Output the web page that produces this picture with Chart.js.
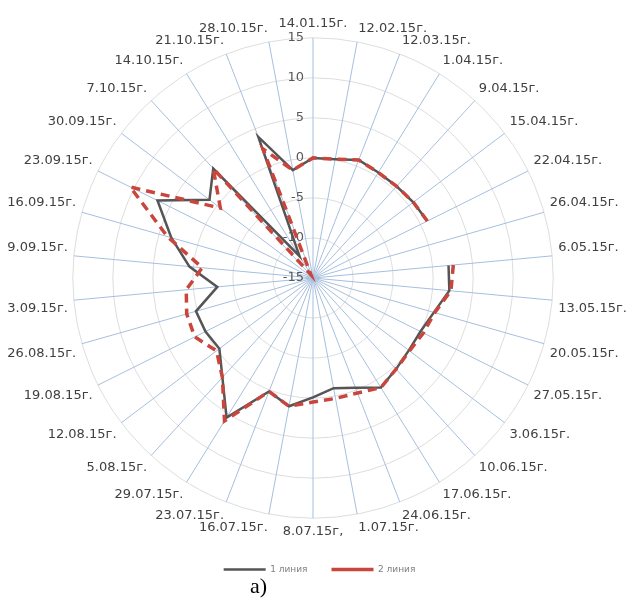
<!DOCTYPE html>
<html>
<head>
<meta charset="utf-8">
<script src="https://cdn.jsdelivr.net/npm/chart.js@4.4.1/dist/chart.umd.min.js"></script>
<style>
  html, body { margin: 0; padding: 0; background: #ffffff; }
  #wrap { position: relative; width: 632px; height: 600px; }
  #caption { position: absolute; left: 250px; top: 573px; font-family: "Liberation Serif", serif; font-size: 22px; color: #000; }
</style>
</head>
<body>
<div id="wrap">
  <canvas id="c" width="632" height="600"></canvas>
  <div id="caption">а)</div>
</div>
<script>
const categories = ["14.01.15г.", "12.02.15г.", "12.03.15г.", "1.04.15г.", "9.04.15г.", "15.04.15г.", "22.04.15г.", "26.04.15г.", "6.05.15г.", "13.05.15г.", "20.05.15г.", "27.05.15г.", "3.06.15г.", "10.06.15г.", "17.06.15г.", "24.06.15г.", "1.07.15г.", "8.07.15г,", "16.07.15г.", "23.07.15г.", "29.07.15г.", "5.08.15г.", "12.08.15г.", "19.08.15г.", "26.08.15г.", "3.09.15г.", "9.09.15г.", "16.09.15г.", "23.09.15г.", "30.09.15г.", "7.10.15г.", "14.10.15г.", "21.10.15г.", "28.10.15г."];
const line1 = [0, 0.1, 0.8, 0.5, 0.5, 0.7, 0.95, null, 2.0, 2.1, 0.7, 0.0, 0.0, 0.4, 1.1, -0.3, -1.0, -0.1, 1.3, 0.2, 5.5, 1.8, -0.35, 0.0, 0.2, -3.0, 0.5, 3.4, 6.7, 1.2, 3.5, -11.8, 3.9, -1.3];
const line2 = [0, 0.1, 0.8, 0.5, 0.5, 0.7, 0.95, null, 2.6, 2.3, 0.8, 0.4, 0.1, 0.4, 1.1, 0.4, 0.3, 0.5, 1.3, 0.2, 6.0, 1.8, 0.1, 1.5, 1.4, 0.9, -1.1, 3.9, 10.5, -0.5, 3.5, -14.5, 2.3, -1.3];
const seriesNames = ["1 линия", "2 линия"];
const axisMin = -15, axisMax = 15, axisStep = 5;

const tickPlugin = {
  id: 'leftTicks',
  beforeDatasetsDraw(chart) {
    const s = chart.scales.r;
    const ctx = chart.ctx;
    ctx.save();
    ctx.font = '13px "DejaVu Sans"';
    ctx.fillStyle = '#595959';
    ctx.textAlign = 'right';
    ctx.textBaseline = 'middle';
    s.ticks.forEach(t => {
      const d = s.getDistanceFromCenterForValue(t.value);
      ctx.fillText(String(t.value), s.xCenter - 9, s.yCenter - d);
    });
    ctx.restore();
  }
};

new Chart(document.getElementById('c'), {
  type: 'radar',
  data: {
    labels: categories,
    datasets: [
      { label: seriesNames[0], data: line1, borderColor: '#555555', backgroundColor: '#555555', borderWidth: 2.5, pointRadius: 0, fill: false, tension: 0, order: 1 },
      { label: seriesNames[1], data: line2, borderColor: '#c9463d', backgroundColor: '#c9463d', borderWidth: 3.5, borderDash: [9, 6], pointRadius: 0, fill: false, tension: 0, order: 0 }
    ]
  },
  options: {
    responsive: false,
    animation: false,
    spanGaps: false,
    layout: { padding: { top: 17, bottom: 16, left: 4, right: -3 } },
    plugins: {
      legend: {
        position: 'bottom',
        labels: {
          usePointStyle: true,
          pointStyle: 'line',
          pointStyleWidth: 42,
          boxHeight: 9,
          padding: 24,
          color: '#7f7f7f',
          font: { family: '"DejaVu Sans"', size: 9 },
          sort: (a, b) => a.datasetIndex - b.datasetIndex
        }
      },
      tooltip: { enabled: false }
    },
    scales: {
      r: {
        min: axisMin,
        max: axisMax,
        ticks: { stepSize: axisStep, display: false },
        grid: { circular: true, color: '#dddddd', lineWidth: 1 },
        angleLines: { color: '#a6bfde', lineWidth: 1 },
        pointLabels: { color: '#404040', font: { family: '"DejaVu Sans"', size: 13 }, padding: 6 }
      }
    }
  },
  plugins: [tickPlugin]
});
</script>
</body>
</html>
